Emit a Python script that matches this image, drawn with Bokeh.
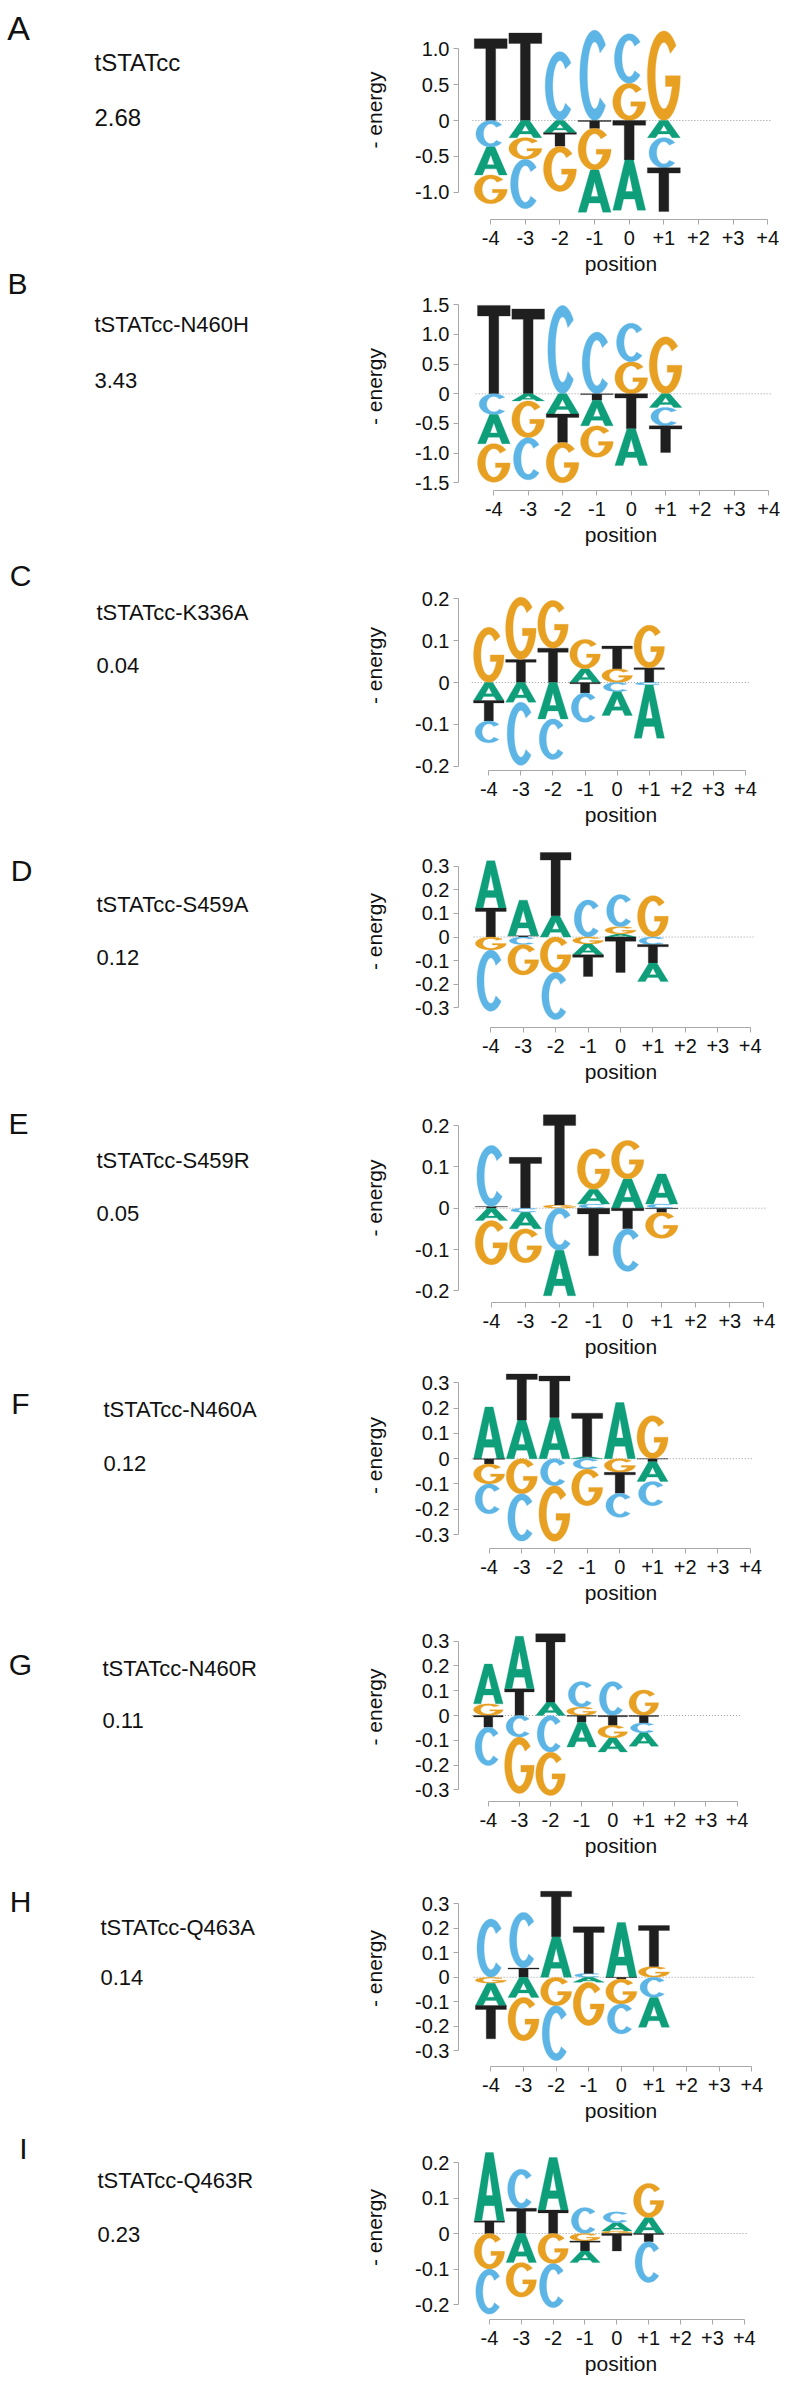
import numpy as np
from bokeh.plotting import figure
from bokeh.layouts import row, column
from bokeh.models import Range1d, FixedTicker, ColumnDataSource
from bokeh.embed import file_html
from bokeh.resources import INLINE
from bokeh.core.properties import value

# ---------------- data ----------------
positions = [-4, -3, -2, -1, 0, 1]
tick_positions = [-4, -3, -2, -1, 0, 1, 2, 3, 4]
tick_labels = ["-4", "-3", "-2", "-1", "0", "+1", "+2", "+3", "+4"]
bases = ["A", "C", "G", "T"]

panel_letters = ["A", "B", "C", "D", "E", "F", "G", "H", "I"]
protein_names = ["tSTATcc", "tSTATcc-N460H", "tSTATcc-K336A", "tSTATcc-S459A",
                 "tSTATcc-S459R", "tSTATcc-N460A", "tSTATcc-N460R",
                 "tSTATcc-Q463A", "tSTATcc-Q463R"]
scores = ["2.68", "3.43", "0.04", "0.12", "0.05", "0.12", "0.11", "0.14", "0.23"]

# -energy per base at positions -4..+1
wt_A = [-0.39, -0.24, -0.17, -0.59, -0.70, -0.24]
wt_C = [-0.37, -0.69, 0.96, 1.26, 0.69, -0.42]
wt_G = [-0.40, -0.30, -0.63, -0.58, 0.52, 1.25]
wt_T = [1.14, 1.22, -0.19, -0.11, -0.55, -0.61]

n460h_A = [-0.49, -0.12, -0.34, -0.43, -0.62, -0.23]
n460h_C = [-0.35, -0.71, 1.49, 1.04, 0.65, -0.31]
n460h_G = [-0.65, -0.62, -0.68, -0.53, 0.54, 0.96]
n460h_T = [1.49, 1.43, -0.48, -0.11, -0.59, -0.45]

k336a_A = [-0.043, -0.047, -0.087, 0.033, -0.057, -0.127]
k336a_C = [-0.052, -0.151, -0.097, -0.070, -0.022, -0.006]
k336a_G = [0.132, 0.149, 0.114, 0.070, 0.033, 0.102]
k336a_T = [-0.049, 0.055, 0.082, -0.025, 0.054, 0.035]

s459a_A = [0.200, 0.151, 0.090, -0.045, 0.013, -0.079]
s459a_C = [-0.260, -0.032, -0.200, 0.157, 0.136, -0.032]
s459a_G = [-0.055, -0.129, -0.150, -0.030, 0.031, 0.175]
s459a_T = [0.123, 0.005, 0.268, -0.092, -0.150, -0.078]

s459r_A = [-0.030, -0.040, -0.110, 0.036, 0.071, 0.073]
s459r_C = [0.148, -0.010, -0.102, 0.010, -0.103, 0.010]
s459r_G = [-0.107, -0.082, 0.008, 0.098, 0.093, -0.063]
s459r_T = [0.004, 0.123, 0.218, -0.115, -0.050, -0.010]

n460a_A = [0.205, 0.153, 0.163, 0.008, 0.222, -0.078]
n460a_C = [-0.118, -0.187, -0.107, -0.041, -0.095, -0.096]
n460a_G = [-0.079, -0.139, -0.220, -0.145, -0.054, 0.170]
n460a_T = [-0.021, 0.182, 0.164, 0.172, -0.083, -0.012]

n460r_A = [0.161, 0.212, 0.054, -0.100, -0.056, -0.054]
n460r_C = [-0.155, -0.087, -0.148, 0.103, 0.137, -0.040]
n460r_G = [0.047, -0.228, -0.175, 0.034, -0.051, 0.103]
n460r_T = [-0.047, 0.108, 0.276, -0.027, -0.040, -0.030]

q463a_A = [-0.091, -0.082, 0.166, -0.020, 0.224, -0.122]
q463a_C = [0.238, 0.227, -0.224, 0.016, -0.122, -0.082]
q463a_G = [-0.024, -0.177, -0.116, -0.177, -0.102, 0.044]
q463a_T = [-0.136, 0.038, 0.185, 0.190, -0.007, 0.167]

q463r_A = [0.192, -0.082, 0.148, -0.033, 0.023, 0.045]
q463r_C = [-0.127, 0.110, -0.124, 0.073, 0.031, -0.115]
q463r_G = [-0.100, -0.097, -0.085, -0.021, 0.007, 0.096]
q463r_T = [0.036, 0.071, 0.066, -0.028, -0.049, -0.023]

energies = [
    {"A": wt_A, "C": wt_C, "G": wt_G, "T": wt_T},
    {"A": n460h_A, "C": n460h_C, "G": n460h_G, "T": n460h_T},
    {"A": k336a_A, "C": k336a_C, "G": k336a_G, "T": k336a_T},
    {"A": s459a_A, "C": s459a_C, "G": s459a_G, "T": s459a_T},
    {"A": s459r_A, "C": s459r_C, "G": s459r_G, "T": s459r_T},
    {"A": n460a_A, "C": n460a_C, "G": n460a_G, "T": n460a_T},
    {"A": n460r_A, "C": n460r_C, "G": n460r_G, "T": n460r_T},
    {"A": q463a_A, "C": q463a_C, "G": q463a_G, "T": q463a_T},
    {"A": q463r_A, "C": q463r_C, "G": q463r_G, "T": q463r_T},
]

ytick_sets = [
    [-1.0, -0.5, 0.0, 0.5, 1.0],
    [-1.5, -1.0, -0.5, 0.0, 0.5, 1.0, 1.5],
    [-0.2, -0.1, 0.0, 0.1, 0.2],
    [-0.3, -0.2, -0.1, 0.0, 0.1, 0.2, 0.3],
    [-0.2, -0.1, 0.0, 0.1, 0.2],
    [-0.3, -0.2, -0.1, 0.0, 0.1, 0.2, 0.3],
    [-0.3, -0.2, -0.1, 0.0, 0.1, 0.2, 0.3],
    [-0.3, -0.2, -0.1, 0.0, 0.1, 0.2, 0.3],
    [-0.2, -0.1, 0.0, 0.1, 0.2],
]

# ---------------- style / layout ----------------
base_colors = {"A": "#0E9E7A", "C": "#5DB5E6", "G": "#E8A023", "T": "#1F1F1F"}
AXIS_GREY = "#A8A8A8"
FONT = "Liberation Sans"

# page-pixel geometry of each panel: y-axis x, zero y, px per unit, x-axis y, x(-4), x(+4)
geom = [
    (433, 120.0, 71.7, 219, 467.7, 766.0),
    (440, 393.3, 59.33, 490, 477.3, 767.3),
    (458, 682.0, 418.5, 770, 488.3, 745.0),
    (454, 936.5, 236.0, 1027, 486.7, 749.3),
    (457, 1207.7, 413.25, 1302, 490.0, 763.3),
    (457, 1458.2, 252.8, 1548, 487.7, 750.0),
    (456, 1715.0, 247.7, 1801, 486.0, 736.3),
    (452, 1976.8, 245.0, 2066, 485.0, 750.7),
    (454, 2233.0, 355.0, 2319, 485.3, 743.3),
]
bounds_y = [0, 282, 560, 835, 1093, 1362, 1612, 1870, 2135, 2385]
LEFT_W_END = 330
RIGHT_END = 783

# left text positions (page px): label x, label y, name x, name y, score y
text_pos = [
    (18, 27, 94, 62, 117),
    (17, 283, 94, 324, 380),
    (20, 575, 96, 612, 665),
    (21, 870, 96, 904, 957),
    (18, 1123, 96, 1160, 1213),
    (20, 1403, 103, 1409, 1463),
    (20, 1664, 102, 1668, 1720),
    (20, 1901, 100, 1927, 1977),
    (23, 2148, 97, 2180, 2234),
]


def ellipse_arc(t0, t1, rx, ry, n=48):
    t = np.radians(np.linspace(t0, t1, n))
    return list(0.5 + rx * np.cos(t)), list(0.5 + ry * np.sin(t))


def glyph_rings(base):
    if base == "T":
        return [([0.0, 1.0, 1.0, 0.65, 0.65, 0.35, 0.35, 0.0],
                 [1.0, 1.0, 0.88, 0.88, 0.0, 0.0, 0.88, 0.88])]
    if base == "A":
        ext = ([0.0, 0.37, 0.63, 1.0, 0.75, 0.67, 0.33, 0.25],
               [0.0, 1.0, 1.0, 0.0, 0.0, 0.22, 0.22, 0.0])
        hole = ([0.39, 0.61, 0.5], [0.37, 0.37, 0.72])
        return [ext, hole]
    if base == "C":
        ox, oy = ellipse_arc(42, 318, 0.45, 0.5)
        ix, iy = ellipse_arc(318, 42, 0.22, 0.37)
        return [(ox + ix, oy + iy)]
    # G
    ox, oy = ellipse_arc(42, 360, 0.5, 0.5)
    ix, iy = ellipse_arc(335, 42, 0.26, 0.37)
    return [(ox + [0.55, 0.55, 0.76] + ix, oy + [0.5, 0.38, 0.38] + iy)]


SHAPES = {b: glyph_rings(b) for b in bases}


def logo_source(vals, width=0.95):
    xs, ys, cols = [], [], []

    def add(b, xc, y0, h):
        rx, ry = [], []
        for ux, uy in SHAPES[b]:
            rx.append([xc - width / 2 + u * width for u in ux])
            ry.append([y0 + v * h for v in uy])
        xs.append([rx])
        ys.append([ry])
        cols.append(base_colors[b])

    for i, pos in enumerate(positions):
        items = [(vals[b][i], b) for b in bases]
        pos_items = sorted([it for it in items if it[0] > 0])
        neg_items = sorted([it for it in items if it[0] < 0], key=lambda t: -t[0])
        y = 0.0
        for v, b in pos_items:
            add(b, pos, y, v)
            y += v
        y = 0.0
        for v, b in neg_items:
            add(b, pos, y + v, -v)
            y += v
    return ColumnDataSource(dict(xs=xs, ys=ys, color=cols))


def fmt(t):
    return "0" if t == 0 else f"{t:.1f}"


# ---------------- left text figure ----------------
H_TOTAL = bounds_y[-1] - bounds_y[0]
left = figure(width=LEFT_W_END, height=H_TOTAL,
              x_range=Range1d(0, LEFT_W_END), y_range=Range1d(bounds_y[-1], bounds_y[0]),
              output_backend="svg", toolbar_location=None,
              min_border=0, outline_line_color=None)
left.axis.visible = False
left.grid.visible = False
for k in range(9):
    lx, ly, nx, ny, sy = text_pos[k]
    big = 34 if k == 0 else 30
    sm = 24 if k == 0 else 22
    left.text(x=[lx], y=[ly], text=[panel_letters[k]], text_align="center",
              text_baseline="middle", text_font=value(FONT),
              text_font_size=value(f"{big}px"), text_color="#111111")
    left.text(x=[nx, nx], y=[ny, sy], text=[protein_names[k], scores[k]],
              text_align="left", text_baseline="middle", text_font=value(FONT),
              text_font_size=value(f"{sm}px"), text_color="#111111")

# ---------------- logo figures ----------------
figs = []
for k in range(9):
    yax, zero, s, xax, xm4, xp4 = geom[k]
    top, bot = bounds_y[k], bounds_y[k + 1]
    dx = (xp4 - xm4) / 8.0
    x_start = -4 - (xm4 - yax) / dx
    x_end = -4 + (RIGHT_END - xm4) / dx
    y_end = (zero - top) / s
    y_start = (zero - xax) / s
    p = figure(width=RIGHT_END - LEFT_W_END, height=bot - top,
               x_range=Range1d(x_start, x_end), y_range=Range1d(y_start, y_end),
               output_backend="svg", toolbar_location=None,
               min_border_left=yax - LEFT_W_END, min_border_right=0,
               min_border_top=0, min_border_bottom=bot - xax,
               outline_line_color=None)
    p.grid.visible = False

    # zero reference line
    p.segment(x0=[positions[0] - 0.53], y0=[0], x1=[tick_positions[-1] + 0.1], y1=[0],
              line_color="#9A9A9A", line_dash="1 2", line_width=1)

    p.multi_polygons(xs="xs", ys="ys", fill_color="color", line_color="color",
                     line_width=0.3, source=logo_source(energies[k]))

    yt = ytick_sets[k]
    p.yaxis.ticker = FixedTicker(ticks=yt)
    p.yaxis.major_label_overrides = {t: fmt(t) for t in yt}
    p.yaxis.bounds = (min(yt), max(yt))
    p.xaxis.ticker = FixedTicker(ticks=tick_positions)
    p.xaxis.major_label_overrides = {t: l for t, l in zip(tick_positions, tick_labels)}
    p.xaxis.bounds = (tick_positions[0], tick_positions[-1])
    p.yaxis.axis_label = "- energy"
    p.xaxis.axis_label = "position"
    for ax in (p.xaxis[0], p.yaxis[0]):
        ax.axis_line_color = AXIS_GREY
        ax.major_tick_line_color = AXIS_GREY
        ax.minor_tick_line_color = None
        ax.major_tick_in = 0
        ax.major_tick_out = 5
        ax.major_label_text_font = FONT
        ax.major_label_text_color = "#111111"
        ax.axis_label_text_font = FONT
        ax.axis_label_text_font_style = "normal"
        ax.axis_label_text_font_size = "21px"
        ax.axis_label_text_color = "#111111"
    p.yaxis.major_label_text_font_size = "20px"
    p.xaxis.major_label_text_font_size = "20px"
    p.yaxis.major_label_standoff = 4
    p.xaxis.major_label_standoff = 6
    p.yaxis.axis_label_standoff = 26
    p.xaxis.axis_label_standoff = 4
    figs.append(p)

layout = row(left, column(*figs, spacing=0), spacing=0)
open("out.html", "w").write(file_html(layout, INLINE))
